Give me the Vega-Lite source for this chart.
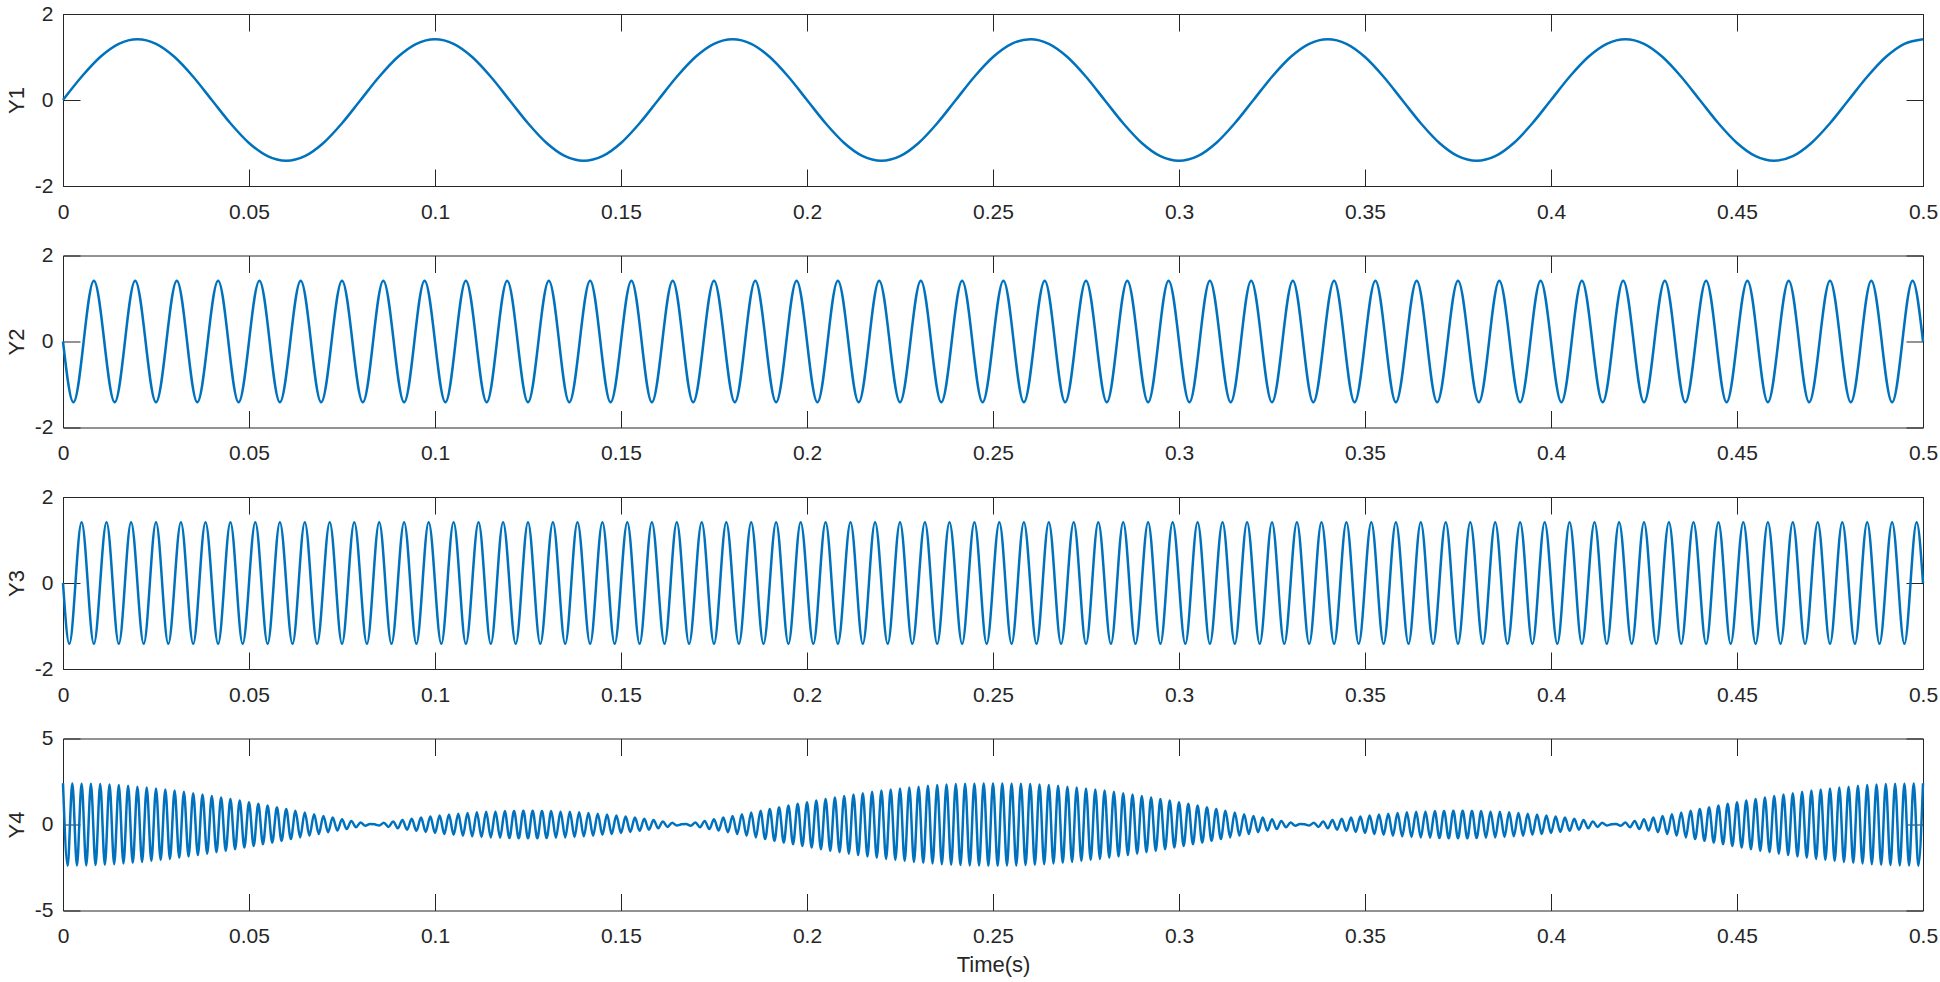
{
  "$schema": "https://vega.github.io/schema/vega-lite/v6.json",
  "background": "white",
  "padding": {"left": 4, "top": 2, "right": 5, "bottom": 5},
  "bounds": "flush",
  "spacing": 69.5,
  "config": {
    "view": {"stroke": "#262626", "strokeWidth": 1},
    "axis": {"domain": false, "grid": false, "tickSize": -17, "tickColor": "#262626", "tickWidth": 1,
      "labelFont": "Liberation Sans", "labelFontSize": 21, "labelColor": "#262626",
      "titleFont": "Liberation Sans", "titleFontSize": 22, "titleColor": "#262626", "titleFontWeight": "normal",
      "labelFlush": false, "labelOverlap": false}
  },
  "datasets": {
    "y1": [
      {"t":0,"v":0},{"t":0.005,"v":0.541},{"t":0.01,"v":1},{"t":0.015,"v":1.307},{"t":0.02,"v":1.414},{"t":0.025,"v":1.307},{"t":0.03,"v":1},{"t":0.035,"v":0.541},
      {"t":0.04,"v":0},{"t":0.045,"v":-0.541},{"t":0.05,"v":-1},{"t":0.055,"v":-1.307},{"t":0.06,"v":-1.414},{"t":0.065,"v":-1.307},{"t":0.07,"v":-1},{"t":0.075,"v":-0.541},
      {"t":0.08,"v":0},{"t":0.085,"v":0.541},{"t":0.09,"v":1},{"t":0.095,"v":1.307},{"t":0.1,"v":1.414},{"t":0.105,"v":1.307},{"t":0.11,"v":1},{"t":0.115,"v":0.541},
      {"t":0.12,"v":0},{"t":0.125,"v":-0.541},{"t":0.13,"v":-1},{"t":0.135,"v":-1.307},{"t":0.14,"v":-1.414},{"t":0.145,"v":-1.307},{"t":0.15,"v":-1},{"t":0.155,"v":-0.541},
      {"t":0.16,"v":0},{"t":0.165,"v":0.541},{"t":0.17,"v":1},{"t":0.175,"v":1.307},{"t":0.18,"v":1.414},{"t":0.185,"v":1.307},{"t":0.19,"v":1},{"t":0.195,"v":0.541},
      {"t":0.2,"v":0},{"t":0.205,"v":-0.541},{"t":0.21,"v":-1},{"t":0.215,"v":-1.307},{"t":0.22,"v":-1.414},{"t":0.225,"v":-1.307},{"t":0.23,"v":-1},{"t":0.235,"v":-0.541},
      {"t":0.24,"v":0},{"t":0.245,"v":0.541},{"t":0.25,"v":1},{"t":0.255,"v":1.307},{"t":0.26,"v":1.414},{"t":0.265,"v":1.307},{"t":0.27,"v":1},{"t":0.275,"v":0.541},
      {"t":0.28,"v":0},{"t":0.285,"v":-0.541},{"t":0.29,"v":-1},{"t":0.295,"v":-1.307},{"t":0.3,"v":-1.414},{"t":0.305,"v":-1.307},{"t":0.31,"v":-1},{"t":0.315,"v":-0.541},
      {"t":0.32,"v":0},{"t":0.325,"v":0.541},{"t":0.33,"v":1},{"t":0.335,"v":1.307},{"t":0.34,"v":1.414},{"t":0.345,"v":1.307},{"t":0.35,"v":1},{"t":0.355,"v":0.541},
      {"t":0.36,"v":0},{"t":0.365,"v":-0.541},{"t":0.37,"v":-1},{"t":0.375,"v":-1.307},{"t":0.38,"v":-1.414},{"t":0.385,"v":-1.307},{"t":0.39,"v":-1},{"t":0.395,"v":-0.541},
      {"t":0.4,"v":0},{"t":0.405,"v":0.541},{"t":0.41,"v":1},{"t":0.415,"v":1.307},{"t":0.42,"v":1.414},{"t":0.425,"v":1.307},{"t":0.43,"v":1},{"t":0.435,"v":0.541},
      {"t":0.44,"v":0},{"t":0.445,"v":-0.541},{"t":0.45,"v":-1},{"t":0.455,"v":-1.307},{"t":0.46,"v":-1.414},{"t":0.465,"v":-1.307},{"t":0.47,"v":-1},{"t":0.475,"v":-0.541},
      {"t":0.48,"v":0},{"t":0.485,"v":0.541},{"t":0.49,"v":1},{"t":0.495,"v":1.307},{"t":0.5,"v":1.414}
    ],
    "y2": [
      {"t":0,"v":0},
      {"t":0.0028,"v":-1.414},{"t":0.0083,"v":1.414},{"t":0.0139,"v":-1.414},{"t":0.0194,"v":1.414},{"t":0.025,"v":-1.414},{"t":0.0306,"v":1.414},{"t":0.0361,"v":-1.414},{"t":0.0417,"v":1.414},{"t":0.0472,"v":-1.414},
      {"t":0.0528,"v":1.414},{"t":0.0583,"v":-1.414},{"t":0.0639,"v":1.414},{"t":0.0694,"v":-1.414},{"t":0.075,"v":1.414},{"t":0.0806,"v":-1.414},{"t":0.0861,"v":1.414},{"t":0.0917,"v":-1.414},{"t":0.0972,"v":1.414},
      {"t":0.1028,"v":-1.414},{"t":0.1083,"v":1.414},{"t":0.1139,"v":-1.414},{"t":0.1194,"v":1.414},{"t":0.125,"v":-1.414},{"t":0.1306,"v":1.414},{"t":0.1361,"v":-1.414},{"t":0.1417,"v":1.414},{"t":0.1472,"v":-1.414},
      {"t":0.1528,"v":1.414},{"t":0.1583,"v":-1.414},{"t":0.1639,"v":1.414},{"t":0.1694,"v":-1.414},{"t":0.175,"v":1.414},{"t":0.1806,"v":-1.414},{"t":0.1861,"v":1.414},{"t":0.1917,"v":-1.414},{"t":0.1972,"v":1.414},
      {"t":0.2028,"v":-1.414},{"t":0.2083,"v":1.414},{"t":0.2139,"v":-1.414},{"t":0.2194,"v":1.414},{"t":0.225,"v":-1.414},{"t":0.2306,"v":1.414},{"t":0.2361,"v":-1.414},{"t":0.2417,"v":1.414},{"t":0.2472,"v":-1.414},
      {"t":0.2528,"v":1.414},{"t":0.2583,"v":-1.414},{"t":0.2639,"v":1.414},{"t":0.2694,"v":-1.414},{"t":0.275,"v":1.414},{"t":0.2806,"v":-1.414},{"t":0.2861,"v":1.414},{"t":0.2917,"v":-1.414},{"t":0.2972,"v":1.414},
      {"t":0.3028,"v":-1.414},{"t":0.3083,"v":1.414},{"t":0.3139,"v":-1.414},{"t":0.3194,"v":1.414},{"t":0.325,"v":-1.414},{"t":0.3306,"v":1.414},{"t":0.3361,"v":-1.414},{"t":0.3417,"v":1.414},{"t":0.3472,"v":-1.414},
      {"t":0.3528,"v":1.414},{"t":0.3583,"v":-1.414},{"t":0.3639,"v":1.414},{"t":0.3694,"v":-1.414},{"t":0.375,"v":1.414},{"t":0.3806,"v":-1.414},{"t":0.3861,"v":1.414},{"t":0.3917,"v":-1.414},{"t":0.3972,"v":1.414},
      {"t":0.4028,"v":-1.414},{"t":0.4083,"v":1.414},{"t":0.4139,"v":-1.414},{"t":0.4194,"v":1.414},{"t":0.425,"v":-1.414},{"t":0.4306,"v":1.414},{"t":0.4361,"v":-1.414},{"t":0.4417,"v":1.414},{"t":0.4472,"v":-1.414},
      {"t":0.4528,"v":1.414},{"t":0.4583,"v":-1.414},{"t":0.4639,"v":1.414},{"t":0.4694,"v":-1.414},{"t":0.475,"v":1.414},{"t":0.4806,"v":-1.414},{"t":0.4861,"v":1.414},{"t":0.4917,"v":-1.414},{"t":0.4972,"v":1.414},
      {"t":0.5,"v":0}
    ],
    "y3": [
      {"t":0,"v":0},
      {"t":0.0017,"v":-1.414},{"t":0.005,"v":1.414},{"t":0.0083,"v":-1.414},{"t":0.0117,"v":1.414},{"t":0.015,"v":-1.414},{"t":0.0183,"v":1.414},{"t":0.0217,"v":-1.414},{"t":0.025,"v":1.414},{"t":0.0283,"v":-1.414},{"t":0.0317,"v":1.414},{"t":0.035,"v":-1.414},{"t":0.0383,"v":1.414},{"t":0.0417,"v":-1.414},{"t":0.045,"v":1.414},{"t":0.0483,"v":-1.414},
      {"t":0.0517,"v":1.414},{"t":0.055,"v":-1.414},{"t":0.0583,"v":1.414},{"t":0.0617,"v":-1.414},{"t":0.065,"v":1.414},{"t":0.0683,"v":-1.414},{"t":0.0717,"v":1.414},{"t":0.075,"v":-1.414},{"t":0.0783,"v":1.414},{"t":0.0817,"v":-1.414},{"t":0.085,"v":1.414},{"t":0.0883,"v":-1.414},{"t":0.0917,"v":1.414},{"t":0.095,"v":-1.414},{"t":0.0983,"v":1.414},
      {"t":0.1017,"v":-1.414},{"t":0.105,"v":1.414},{"t":0.1083,"v":-1.414},{"t":0.1117,"v":1.414},{"t":0.115,"v":-1.414},{"t":0.1183,"v":1.414},{"t":0.1217,"v":-1.414},{"t":0.125,"v":1.414},{"t":0.1283,"v":-1.414},{"t":0.1317,"v":1.414},{"t":0.135,"v":-1.414},{"t":0.1383,"v":1.414},{"t":0.1417,"v":-1.414},{"t":0.145,"v":1.414},{"t":0.1483,"v":-1.414},
      {"t":0.1517,"v":1.414},{"t":0.155,"v":-1.414},{"t":0.1583,"v":1.414},{"t":0.1617,"v":-1.414},{"t":0.165,"v":1.414},{"t":0.1683,"v":-1.414},{"t":0.1717,"v":1.414},{"t":0.175,"v":-1.414},{"t":0.1783,"v":1.414},{"t":0.1817,"v":-1.414},{"t":0.185,"v":1.414},{"t":0.1883,"v":-1.414},{"t":0.1917,"v":1.414},{"t":0.195,"v":-1.414},{"t":0.1983,"v":1.414},
      {"t":0.2017,"v":-1.414},{"t":0.205,"v":1.414},{"t":0.2083,"v":-1.414},{"t":0.2117,"v":1.414},{"t":0.215,"v":-1.414},{"t":0.2183,"v":1.414},{"t":0.2217,"v":-1.414},{"t":0.225,"v":1.414},{"t":0.2283,"v":-1.414},{"t":0.2317,"v":1.414},{"t":0.235,"v":-1.414},{"t":0.2383,"v":1.414},{"t":0.2417,"v":-1.414},{"t":0.245,"v":1.414},{"t":0.2483,"v":-1.414},
      {"t":0.2517,"v":1.414},{"t":0.255,"v":-1.414},{"t":0.2583,"v":1.414},{"t":0.2617,"v":-1.414},{"t":0.265,"v":1.414},{"t":0.2683,"v":-1.414},{"t":0.2717,"v":1.414},{"t":0.275,"v":-1.414},{"t":0.2783,"v":1.414},{"t":0.2817,"v":-1.414},{"t":0.285,"v":1.414},{"t":0.2883,"v":-1.414},{"t":0.2917,"v":1.414},{"t":0.295,"v":-1.414},{"t":0.2983,"v":1.414},
      {"t":0.3017,"v":-1.414},{"t":0.305,"v":1.414},{"t":0.3083,"v":-1.414},{"t":0.3117,"v":1.414},{"t":0.315,"v":-1.414},{"t":0.3183,"v":1.414},{"t":0.3217,"v":-1.414},{"t":0.325,"v":1.414},{"t":0.3283,"v":-1.414},{"t":0.3317,"v":1.414},{"t":0.335,"v":-1.414},{"t":0.3383,"v":1.414},{"t":0.3417,"v":-1.414},{"t":0.345,"v":1.414},{"t":0.3483,"v":-1.414},
      {"t":0.3517,"v":1.414},{"t":0.355,"v":-1.414},{"t":0.3583,"v":1.414},{"t":0.3617,"v":-1.414},{"t":0.365,"v":1.414},{"t":0.3683,"v":-1.414},{"t":0.3717,"v":1.414},{"t":0.375,"v":-1.414},{"t":0.3783,"v":1.414},{"t":0.3817,"v":-1.414},{"t":0.385,"v":1.414},{"t":0.3883,"v":-1.414},{"t":0.3917,"v":1.414},{"t":0.395,"v":-1.414},{"t":0.3983,"v":1.414},
      {"t":0.4017,"v":-1.414},{"t":0.405,"v":1.414},{"t":0.4083,"v":-1.414},{"t":0.4117,"v":1.414},{"t":0.415,"v":-1.414},{"t":0.4183,"v":1.414},{"t":0.4217,"v":-1.414},{"t":0.425,"v":1.414},{"t":0.4283,"v":-1.414},{"t":0.4317,"v":1.414},{"t":0.435,"v":-1.414},{"t":0.4383,"v":1.414},{"t":0.4417,"v":-1.414},{"t":0.445,"v":1.414},{"t":0.4483,"v":-1.414},
      {"t":0.4517,"v":1.414},{"t":0.455,"v":-1.414},{"t":0.4583,"v":1.414},{"t":0.4617,"v":-1.414},{"t":0.465,"v":1.414},{"t":0.4683,"v":-1.414},{"t":0.4717,"v":1.414},{"t":0.475,"v":-1.414},{"t":0.4783,"v":1.414},{"t":0.4817,"v":-1.414},{"t":0.485,"v":1.414},{"t":0.4883,"v":-1.414},{"t":0.4917,"v":1.414},{"t":0.495,"v":-1.414},{"t":0.4983,"v":1.414},
      {"t":0.5,"v":0}
    ],
    "y4": [
      {"t":0,"v":2.4},{"t":0.00125,"v":-2.4},{"t":0.0025,"v":2.4},{"t":0.00375,"v":-2.39},{"t":0.005,"v":2.39},{"t":0.00625,"v":-2.38},{"t":0.0075,"v":2.37},{"t":0.00875,"v":-2.36},
      {"t":0.01,"v":2.35},{"t":0.01125,"v":-2.34},{"t":0.0125,"v":2.32},{"t":0.01375,"v":-2.31},{"t":0.015,"v":2.29},{"t":0.01625,"v":-2.27},{"t":0.0175,"v":2.25},{"t":0.01875,"v":-2.23},
      {"t":0.02,"v":2.2},{"t":0.02125,"v":-2.18},{"t":0.0225,"v":2.15},{"t":0.02375,"v":-2.12},{"t":0.025,"v":2.09},{"t":0.02625,"v":-2.06},{"t":0.0275,"v":2.03},{"t":0.02875,"v":-2},
      {"t":0.03,"v":1.97},{"t":0.03125,"v":-1.93},{"t":0.0325,"v":1.9},{"t":0.03375,"v":-1.86},{"t":0.035,"v":1.82},{"t":0.03625,"v":-1.78},{"t":0.0375,"v":1.74},{"t":0.03875,"v":-1.7},
      {"t":0.04,"v":1.66},{"t":0.04125,"v":-1.61},{"t":0.0425,"v":1.57},{"t":0.04375,"v":-1.53},{"t":0.045,"v":1.48},{"t":0.04625,"v":-1.44},{"t":0.0475,"v":1.39},{"t":0.04875,"v":-1.34},
      {"t":0.05,"v":1.29},{"t":0.05125,"v":-1.25},{"t":0.0525,"v":1.2},{"t":0.05375,"v":-1.15},{"t":0.055,"v":1.1},{"t":0.05625,"v":-1.05},{"t":0.0575,"v":1},{"t":0.05875,"v":-0.95},
      {"t":0.06,"v":0.9},{"t":0.06125,"v":-0.85},{"t":0.0625,"v":0.8},{"t":0.06375,"v":-0.75},{"t":0.065,"v":0.7},{"t":0.06625,"v":-0.65},{"t":0.0675,"v":0.6},{"t":0.06875,"v":-0.55},
      {"t":0.07,"v":0.5},{"t":0.07125,"v":-0.45},{"t":0.0725,"v":0.4},{"t":0.07375,"v":-0.35},{"t":0.075,"v":0.31},{"t":0.07625,"v":-0.26},{"t":0.0775,"v":0.21},{"t":0.07875,"v":-0.16},
      {"t":0.08,"v":0.12},{"t":0.08125,"v":-0.07},{"t":0.0825,"v":0.03},{"t":0.08375,"v":0.01},{"t":0.085,"v":-0.06},{"t":0.08625,"v":0.1},{"t":0.0875,"v":-0.14},{"t":0.08875,"v":0.18},
      {"t":0.09,"v":-0.22},{"t":0.09125,"v":0.26},{"t":0.0925,"v":-0.3},{"t":0.09375,"v":0.33},{"t":0.095,"v":-0.37},{"t":0.09625,"v":0.4},{"t":0.0975,"v":-0.43},{"t":0.09875,"v":0.46},
      {"t":0.1,"v":-0.49},{"t":0.10125,"v":0.52},{"t":0.1025,"v":-0.55},{"t":0.10375,"v":0.58},{"t":0.105,"v":-0.6},{"t":0.10625,"v":0.63},{"t":0.1075,"v":-0.65},{"t":0.10875,"v":0.67},
      {"t":0.11,"v":-0.69},{"t":0.11125,"v":0.71},{"t":0.1125,"v":-0.72},{"t":0.11375,"v":0.74},{"t":0.115,"v":-0.75},{"t":0.11625,"v":0.76},{"t":0.1175,"v":-0.77},{"t":0.11875,"v":0.78},
      {"t":0.12,"v":-0.79},{"t":0.12125,"v":0.79},{"t":0.1225,"v":-0.8},{"t":0.12375,"v":0.8},{"t":0.125,"v":-0.8},{"t":0.12625,"v":0.8},{"t":0.1275,"v":-0.8},{"t":0.12875,"v":0.79},
      {"t":0.13,"v":-0.79},{"t":0.13125,"v":0.78},{"t":0.1325,"v":-0.77},{"t":0.13375,"v":0.76},{"t":0.135,"v":-0.75},{"t":0.13625,"v":0.74},{"t":0.1375,"v":-0.72},{"t":0.13875,"v":0.71},
      {"t":0.14,"v":-0.69},{"t":0.14125,"v":0.67},{"t":0.1425,"v":-0.65},{"t":0.14375,"v":0.63},{"t":0.145,"v":-0.6},{"t":0.14625,"v":0.58},{"t":0.1475,"v":-0.55},{"t":0.14875,"v":0.52},
      {"t":0.15,"v":-0.49},{"t":0.15125,"v":0.46},{"t":0.1525,"v":-0.43},{"t":0.15375,"v":0.4},{"t":0.155,"v":-0.37},{"t":0.15625,"v":0.33},{"t":0.1575,"v":-0.3},{"t":0.15875,"v":0.26},
      {"t":0.16,"v":-0.22},{"t":0.16125,"v":0.18},{"t":0.1625,"v":-0.14},{"t":0.16375,"v":0.1},{"t":0.165,"v":-0.06},{"t":0.16625,"v":0.01},{"t":0.1675,"v":0.03},{"t":0.16875,"v":-0.07},
      {"t":0.17,"v":0.12},{"t":0.17125,"v":-0.16},{"t":0.1725,"v":0.21},{"t":0.17375,"v":-0.26},{"t":0.175,"v":0.31},{"t":0.17625,"v":-0.35},{"t":0.1775,"v":0.4},{"t":0.17875,"v":-0.45},
      {"t":0.18,"v":0.5},{"t":0.18125,"v":-0.55},{"t":0.1825,"v":0.6},{"t":0.18375,"v":-0.65},{"t":0.185,"v":0.7},{"t":0.18625,"v":-0.75},{"t":0.1875,"v":0.8},{"t":0.18875,"v":-0.85},
      {"t":0.19,"v":0.9},{"t":0.19125,"v":-0.95},{"t":0.1925,"v":1},{"t":0.19375,"v":-1.05},{"t":0.195,"v":1.1},{"t":0.19625,"v":-1.15},{"t":0.1975,"v":1.2},{"t":0.19875,"v":-1.25},
      {"t":0.2,"v":1.29},{"t":0.20125,"v":-1.34},{"t":0.2025,"v":1.39},{"t":0.20375,"v":-1.44},{"t":0.205,"v":1.48},{"t":0.20625,"v":-1.53},{"t":0.2075,"v":1.57},{"t":0.20875,"v":-1.61},
      {"t":0.21,"v":1.66},{"t":0.21125,"v":-1.7},{"t":0.2125,"v":1.74},{"t":0.21375,"v":-1.78},{"t":0.215,"v":1.82},{"t":0.21625,"v":-1.86},{"t":0.2175,"v":1.9},{"t":0.21875,"v":-1.93},
      {"t":0.22,"v":1.97},{"t":0.22125,"v":-2},{"t":0.2225,"v":2.03},{"t":0.22375,"v":-2.06},{"t":0.225,"v":2.09},{"t":0.22625,"v":-2.12},{"t":0.2275,"v":2.15},{"t":0.22875,"v":-2.18},
      {"t":0.23,"v":2.2},{"t":0.23125,"v":-2.23},{"t":0.2325,"v":2.25},{"t":0.23375,"v":-2.27},{"t":0.235,"v":2.29},{"t":0.23625,"v":-2.31},{"t":0.2375,"v":2.32},{"t":0.23875,"v":-2.34},
      {"t":0.24,"v":2.35},{"t":0.24125,"v":-2.36},{"t":0.2425,"v":2.37},{"t":0.24375,"v":-2.38},{"t":0.245,"v":2.39},{"t":0.24625,"v":-2.39},{"t":0.2475,"v":2.4},{"t":0.24875,"v":-2.4},
      {"t":0.25,"v":2.4},{"t":0.25125,"v":-2.4},{"t":0.2525,"v":2.4},{"t":0.25375,"v":-2.39},{"t":0.255,"v":2.39},{"t":0.25625,"v":-2.38},{"t":0.2575,"v":2.37},{"t":0.25875,"v":-2.36},
      {"t":0.26,"v":2.35},{"t":0.26125,"v":-2.34},{"t":0.2625,"v":2.32},{"t":0.26375,"v":-2.31},{"t":0.265,"v":2.29},{"t":0.26625,"v":-2.27},{"t":0.2675,"v":2.25},{"t":0.26875,"v":-2.23},
      {"t":0.27,"v":2.2},{"t":0.27125,"v":-2.18},{"t":0.2725,"v":2.15},{"t":0.27375,"v":-2.12},{"t":0.275,"v":2.09},{"t":0.27625,"v":-2.06},{"t":0.2775,"v":2.03},{"t":0.27875,"v":-2},
      {"t":0.28,"v":1.97},{"t":0.28125,"v":-1.93},{"t":0.2825,"v":1.9},{"t":0.28375,"v":-1.86},{"t":0.285,"v":1.82},{"t":0.28625,"v":-1.78},{"t":0.2875,"v":1.74},{"t":0.28875,"v":-1.7},
      {"t":0.29,"v":1.66},{"t":0.29125,"v":-1.61},{"t":0.2925,"v":1.57},{"t":0.29375,"v":-1.53},{"t":0.295,"v":1.48},{"t":0.29625,"v":-1.44},{"t":0.2975,"v":1.39},{"t":0.29875,"v":-1.34},
      {"t":0.3,"v":1.29},{"t":0.30125,"v":-1.25},{"t":0.3025,"v":1.2},{"t":0.30375,"v":-1.15},{"t":0.305,"v":1.1},{"t":0.30625,"v":-1.05},{"t":0.3075,"v":1},{"t":0.30875,"v":-0.95},
      {"t":0.31,"v":0.9},{"t":0.31125,"v":-0.85},{"t":0.3125,"v":0.8},{"t":0.31375,"v":-0.75},{"t":0.315,"v":0.7},{"t":0.31625,"v":-0.65},{"t":0.3175,"v":0.6},{"t":0.31875,"v":-0.55},
      {"t":0.32,"v":0.5},{"t":0.32125,"v":-0.45},{"t":0.3225,"v":0.4},{"t":0.32375,"v":-0.35},{"t":0.325,"v":0.31},{"t":0.32625,"v":-0.26},{"t":0.3275,"v":0.21},{"t":0.32875,"v":-0.16},
      {"t":0.33,"v":0.12},{"t":0.33125,"v":-0.07},{"t":0.3325,"v":0.03},{"t":0.33375,"v":0.01},{"t":0.335,"v":-0.06},{"t":0.33625,"v":0.1},{"t":0.3375,"v":-0.14},{"t":0.33875,"v":0.18},
      {"t":0.34,"v":-0.22},{"t":0.34125,"v":0.26},{"t":0.3425,"v":-0.3},{"t":0.34375,"v":0.33},{"t":0.345,"v":-0.37},{"t":0.34625,"v":0.4},{"t":0.3475,"v":-0.43},{"t":0.34875,"v":0.46},
      {"t":0.35,"v":-0.49},{"t":0.35125,"v":0.52},{"t":0.3525,"v":-0.55},{"t":0.35375,"v":0.58},{"t":0.355,"v":-0.6},{"t":0.35625,"v":0.63},{"t":0.3575,"v":-0.65},{"t":0.35875,"v":0.67},
      {"t":0.36,"v":-0.69},{"t":0.36125,"v":0.71},{"t":0.3625,"v":-0.72},{"t":0.36375,"v":0.74},{"t":0.365,"v":-0.75},{"t":0.36625,"v":0.76},{"t":0.3675,"v":-0.77},{"t":0.36875,"v":0.78},
      {"t":0.37,"v":-0.79},{"t":0.37125,"v":0.79},{"t":0.3725,"v":-0.8},{"t":0.37375,"v":0.8},{"t":0.375,"v":-0.8},{"t":0.37625,"v":0.8},{"t":0.3775,"v":-0.8},{"t":0.37875,"v":0.79},
      {"t":0.38,"v":-0.79},{"t":0.38125,"v":0.78},{"t":0.3825,"v":-0.77},{"t":0.38375,"v":0.76},{"t":0.385,"v":-0.75},{"t":0.38625,"v":0.74},{"t":0.3875,"v":-0.72},{"t":0.38875,"v":0.71},
      {"t":0.39,"v":-0.69},{"t":0.39125,"v":0.67},{"t":0.3925,"v":-0.65},{"t":0.39375,"v":0.63},{"t":0.395,"v":-0.6},{"t":0.39625,"v":0.58},{"t":0.3975,"v":-0.55},{"t":0.39875,"v":0.52},
      {"t":0.4,"v":-0.49},{"t":0.40125,"v":0.46},{"t":0.4025,"v":-0.43},{"t":0.40375,"v":0.4},{"t":0.405,"v":-0.37},{"t":0.40625,"v":0.33},{"t":0.4075,"v":-0.3},{"t":0.40875,"v":0.26},
      {"t":0.41,"v":-0.22},{"t":0.41125,"v":0.18},{"t":0.4125,"v":-0.14},{"t":0.41375,"v":0.1},{"t":0.415,"v":-0.06},{"t":0.41625,"v":0.01},{"t":0.4175,"v":0.03},{"t":0.41875,"v":-0.07},
      {"t":0.42,"v":0.12},{"t":0.42125,"v":-0.16},{"t":0.4225,"v":0.21},{"t":0.42375,"v":-0.26},{"t":0.425,"v":0.31},{"t":0.42625,"v":-0.35},{"t":0.4275,"v":0.4},{"t":0.42875,"v":-0.45},
      {"t":0.43,"v":0.5},{"t":0.43125,"v":-0.55},{"t":0.4325,"v":0.6},{"t":0.43375,"v":-0.65},{"t":0.435,"v":0.7},{"t":0.43625,"v":-0.75},{"t":0.4375,"v":0.8},{"t":0.43875,"v":-0.85},
      {"t":0.44,"v":0.9},{"t":0.44125,"v":-0.95},{"t":0.4425,"v":1},{"t":0.44375,"v":-1.05},{"t":0.445,"v":1.1},{"t":0.44625,"v":-1.15},{"t":0.4475,"v":1.2},{"t":0.44875,"v":-1.25},
      {"t":0.45,"v":1.29},{"t":0.45125,"v":-1.34},{"t":0.4525,"v":1.39},{"t":0.45375,"v":-1.44},{"t":0.455,"v":1.48},{"t":0.45625,"v":-1.53},{"t":0.4575,"v":1.57},{"t":0.45875,"v":-1.61},
      {"t":0.46,"v":1.66},{"t":0.46125,"v":-1.7},{"t":0.4625,"v":1.74},{"t":0.46375,"v":-1.78},{"t":0.465,"v":1.82},{"t":0.46625,"v":-1.86},{"t":0.4675,"v":1.9},{"t":0.46875,"v":-1.93},
      {"t":0.47,"v":1.97},{"t":0.47125,"v":-2},{"t":0.4725,"v":2.03},{"t":0.47375,"v":-2.06},{"t":0.475,"v":2.09},{"t":0.47625,"v":-2.12},{"t":0.4775,"v":2.15},{"t":0.47875,"v":-2.18},
      {"t":0.48,"v":2.2},{"t":0.48125,"v":-2.23},{"t":0.4825,"v":2.25},{"t":0.48375,"v":-2.27},{"t":0.485,"v":2.29},{"t":0.48625,"v":-2.31},{"t":0.4875,"v":2.32},{"t":0.48875,"v":-2.34},
      {"t":0.49,"v":2.35},{"t":0.49125,"v":-2.36},{"t":0.4925,"v":2.37},{"t":0.49375,"v":-2.38},{"t":0.495,"v":2.39},{"t":0.49625,"v":-2.39},{"t":0.4975,"v":2.4},{"t":0.49875,"v":-2.4},
      {"t":0.5,"v":2.4}
    ]
  },
  "vconcat": [
    {
      "width": 1860, "height": 172,
      "layer": [
        {"data": {"name": "y1"}, "mark": {"type": "line", "interpolate": "monotone", "color": "#0072BD", "strokeWidth": 2.5},
         "encoding": {
           "x": {"field": "t", "type": "quantitative", "scale": {"domain": [0, 0.5], "nice": false, "zero": false},
                 "axis": {"orient": "bottom", "values": [0,0.05,0.1,0.15,0.2,0.25,0.3,0.35,0.4,0.45,0.5], "labelExpr": "'' + datum.value", "labelPadding": 32, "title": null}},
           "y": {"field": "v", "type": "quantitative", "scale": {"domain": [-2, 2], "nice": false},
                 "axis": {"orient": "left", "values": [-2,0,2], "labelExpr": "'' + datum.value", "labelPadding": 27, "title": "Y1", "titlePadding": 6}}
         }},
        {"data": {"name": "y1"}, "transform": [{"filter": "datum.t == 0"}], "mark": {"type": "point", "opacity": 0},
         "encoding": {
           "x": {"field": "t", "type": "quantitative", "scale": {"domain": [0, 0.5], "nice": false, "zero": false},
                 "axis": {"orient": "top", "values": [0,0.05,0.1,0.15,0.2,0.25,0.3,0.35,0.4,0.45,0.5], "labels": false, "title": null}},
           "y": {"field": "v", "type": "quantitative", "scale": {"domain": [-2, 2], "nice": false},
                 "axis": {"orient": "right", "values": [-2,0,2], "labels": false, "title": null}}
         }}
      ],
      "resolve": {"axis": {"x": "independent", "y": "independent"}}
    },
    {
      "width": 1860, "height": 172,
      "layer": [
        {"data": {"name": "y2"}, "mark": {"type": "line", "interpolate": "monotone", "color": "#0072BD", "strokeWidth": 2.5},
         "encoding": {
           "x": {"field": "t", "type": "quantitative", "scale": {"domain": [0, 0.5], "nice": false, "zero": false},
                 "axis": {"orient": "bottom", "values": [0,0.05,0.1,0.15,0.2,0.25,0.3,0.35,0.4,0.45,0.5], "labelExpr": "'' + datum.value", "labelPadding": 32, "title": null}},
           "y": {"field": "v", "type": "quantitative", "scale": {"domain": [-2, 2], "nice": false},
                 "axis": {"orient": "left", "values": [-2,0,2], "labelExpr": "'' + datum.value", "labelPadding": 27, "title": "Y2", "titlePadding": 6}}
         }},
        {"data": {"name": "y2"}, "transform": [{"filter": "datum.t == 0"}], "mark": {"type": "point", "opacity": 0},
         "encoding": {
           "x": {"field": "t", "type": "quantitative", "scale": {"domain": [0, 0.5], "nice": false, "zero": false},
                 "axis": {"orient": "top", "values": [0,0.05,0.1,0.15,0.2,0.25,0.3,0.35,0.4,0.45,0.5], "labels": false, "title": null}},
           "y": {"field": "v", "type": "quantitative", "scale": {"domain": [-2, 2], "nice": false},
                 "axis": {"orient": "right", "values": [-2,0,2], "labels": false, "title": null}}
         }}
      ],
      "resolve": {"axis": {"x": "independent", "y": "independent"}}
    },
    {
      "width": 1860, "height": 172,
      "layer": [
        {"data": {"name": "y3"}, "mark": {"type": "line", "interpolate": "monotone", "color": "#0072BD", "strokeWidth": 2.5},
         "encoding": {
           "x": {"field": "t", "type": "quantitative", "scale": {"domain": [0, 0.5], "nice": false, "zero": false},
                 "axis": {"orient": "bottom", "values": [0,0.05,0.1,0.15,0.2,0.25,0.3,0.35,0.4,0.45,0.5], "labelExpr": "'' + datum.value", "labelPadding": 32, "title": null}},
           "y": {"field": "v", "type": "quantitative", "scale": {"domain": [-2, 2], "nice": false},
                 "axis": {"orient": "left", "values": [-2,0,2], "labelExpr": "'' + datum.value", "labelPadding": 27, "title": "Y3", "titlePadding": 6}}
         }},
        {"data": {"name": "y3"}, "transform": [{"filter": "datum.t == 0"}], "mark": {"type": "point", "opacity": 0},
         "encoding": {
           "x": {"field": "t", "type": "quantitative", "scale": {"domain": [0, 0.5], "nice": false, "zero": false},
                 "axis": {"orient": "top", "values": [0,0.05,0.1,0.15,0.2,0.25,0.3,0.35,0.4,0.45,0.5], "labels": false, "title": null}},
           "y": {"field": "v", "type": "quantitative", "scale": {"domain": [-2, 2], "nice": false},
                 "axis": {"orient": "right", "values": [-2,0,2], "labels": false, "title": null}}
         }}
      ],
      "resolve": {"axis": {"x": "independent", "y": "independent"}}
    },
    {
      "width": 1860, "height": 172,
      "layer": [
        {"data": {"name": "y4"}, "mark": {"type": "line", "interpolate": "monotone", "color": "#0072BD", "strokeWidth": 2.5},
         "encoding": {
           "x": {"field": "t", "type": "quantitative", "scale": {"domain": [0, 0.5], "nice": false, "zero": false},
                 "axis": {"orient": "bottom", "values": [0,0.05,0.1,0.15,0.2,0.25,0.3,0.35,0.4,0.45,0.5], "labelExpr": "'' + datum.value", "labelPadding": 32, "title": "Time(s)", "titlePadding": 8}},
           "y": {"field": "v", "type": "quantitative", "scale": {"domain": [-5, 5], "nice": false},
                 "axis": {"orient": "left", "values": [-5,0,5], "labelExpr": "'' + datum.value", "labelPadding": 27, "title": "Y4", "titlePadding": 6}}
         }},
        {"data": {"name": "y4"}, "transform": [{"filter": "datum.t == 0"}], "mark": {"type": "point", "opacity": 0},
         "encoding": {
           "x": {"field": "t", "type": "quantitative", "scale": {"domain": [0, 0.5], "nice": false, "zero": false},
                 "axis": {"orient": "top", "values": [0,0.05,0.1,0.15,0.2,0.25,0.3,0.35,0.4,0.45,0.5], "labels": false, "title": null}},
           "y": {"field": "v", "type": "quantitative", "scale": {"domain": [-5, 5], "nice": false},
                 "axis": {"orient": "right", "values": [-5,0,5], "labels": false, "title": null}}
         }}
      ],
      "resolve": {"axis": {"x": "independent", "y": "independent"}}
    }
  ]
}
